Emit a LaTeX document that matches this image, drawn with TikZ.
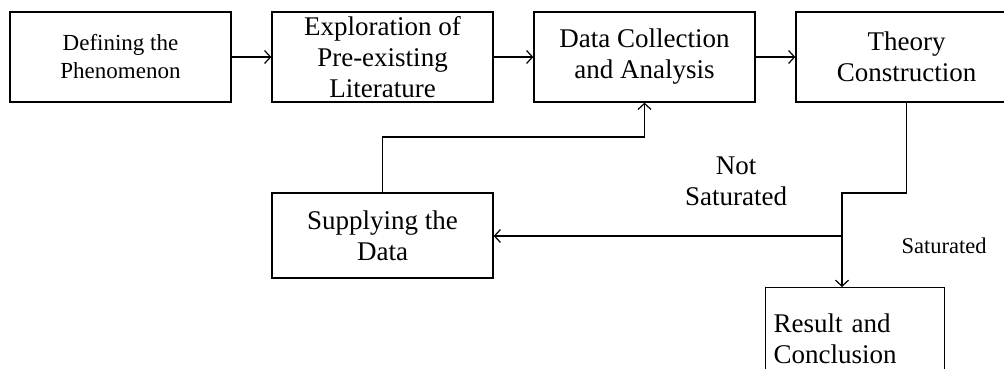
\documentclass[tikz,border=0pt]{standalone}
\usepackage{fontspec}
\setmainfont{Liberation Serif}
\usetikzlibrary{arrows.meta}
\begin{document}
\begin{tikzpicture}[x=1pt,y=-1pt,
  box/.style={draw,line width=1.3pt,minimum width=221pt,minimum height=90pt,inner sep=0pt,align=center,
    font=\fontsize{27}{31}\selectfont},
  conn/.style={line width=1.3pt,-{Straight Barb[length=6pt,width=13pt,line width=1.2pt]}},
  lbl/.style={align=center,inner sep=0pt,font=\fontsize{27}{31}\selectfont}]
\useasboundingbox (0,0) rectangle (1004,369);
\clip (0,0) rectangle (1004,369);
\node[box,font=\fontsize{23}{28}\selectfont] (b1) at (120.5,57) {Defining the\\Phenomenon};
\node[box] (b2) at (382.5,57) {Exploration of\\Pre-existing\\Literature};
\node[box] (b3) at (644.5,57) {Data Collection\\and Analysis};
\node[box] (b4) at (906.5,57) {Theory\\Construction};
\node[box,minimum height=85pt] (supply) at (382.5,235.5) {Supplying the\\Data};
\node[box,minimum width=179pt,anchor=north west,align=left,text width=163pt] (result) at (765,287) {\rule{0pt}{0pt}\\[-31pt]\vphantom{X}\\Result and\\Conclusion\\[0pt]};
\node[lbl] (notsat) at (736,181) {Not\\Saturated};
\node[lbl,font=\fontsize{22.5}{27}\selectfont,anchor=base] (sat) at (944,253) {Saturated};
\coordinate (lp) at (382.5,137);
\coordinate (bend) at (842,193);
\coordinate (j) at (842,236);
\draw[conn] (b1) -- (b2);
\draw[conn] (b2) -- (b3);
\draw[conn] (b3) -- (b4);
\draw[conn] (supply.north) -- (lp) -| (b3.south);
\draw[conn] (b4.south) |- (bend) -- (j |- result.north);
\draw[conn] (j) -- (j -| supply.east);
\end{tikzpicture}
\end{document}
